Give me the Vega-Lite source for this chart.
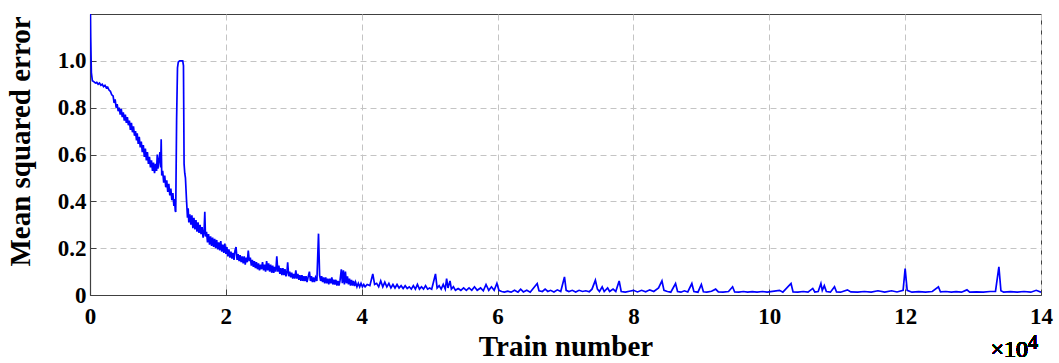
{
  "$schema": "https://vega.github.io/schema/vega-lite/v6.json",
  "width": 951,
  "height": 281,
  "autosize": {"type": "none"},
  "padding": {"left": 90, "top": 14, "right": 18, "bottom": 68},
  "background": "white",
  "config": {
    "view": {"stroke": "#404040", "strokeWidth": 1},
    "axis": {
      "labelFont": "Liberation Serif",
      "labelFontWeight": "bold",
      "labelFontSize": 23,
      "labelColor": "black",
      "titleFont": "Liberation Serif",
      "titleFontWeight": "bold",
      "titleFontSize": 29,
      "titleColor": "black",
      "domainColor": "#404040",
      "domainWidth": 1.2,
      "tickColor": "#404040",
      "gridColor": "#c4c4c4",
      "gridDash": [6, 4],
      "gridWidth": 1
    }
  },
  "data": {
    "values": [
      {"x": 0, "y": 1.35}, {"x": 100, "y": 1.1}, {"x": 200, "y": 0.95}, {"x": 350, "y": 0.915}, {"x": 600, "y": 0.91},
      {"x": 800, "y": 0.905}, {"x": 1000, "y": 0.908}, {"x": 1200, "y": 0.9}, {"x": 1400, "y": 0.905}, {"x": 1600, "y": 0.896},
      {"x": 1800, "y": 0.9}, {"x": 2000, "y": 0.89}, {"x": 2200, "y": 0.895}, {"x": 2400, "y": 0.885}, {"x": 2600, "y": 0.888},
      {"x": 2800, "y": 0.875}, {"x": 3000, "y": 0.87}, {"x": 3200, "y": 0.855},
      {"x": 3400, "y": 0.85}, {"x": 3550, "y": 0.82}, {"x": 3700, "y": 0.835}, {"x": 3850, "y": 0.8}, {"x": 4000, "y": 0.815},
      {"x": 4150, "y": 0.785}, {"x": 4300, "y": 0.8}, {"x": 4450, "y": 0.77}, {"x": 4600, "y": 0.795}, {"x": 4750, "y": 0.76},
      {"x": 4900, "y": 0.78}, {"x": 5050, "y": 0.745}, {"x": 5200, "y": 0.77}, {"x": 5350, "y": 0.735}, {"x": 5500, "y": 0.76},
      {"x": 5650, "y": 0.725}, {"x": 5800, "y": 0.745}, {"x": 5950, "y": 0.705}, {"x": 6100, "y": 0.735}, {"x": 6250, "y": 0.695},
      {"x": 6400, "y": 0.72}, {"x": 6550, "y": 0.68}, {"x": 6700, "y": 0.7}, {"x": 6850, "y": 0.66}, {"x": 6950, "y": 0.69},
      {"x": 7100, "y": 0.645}, {"x": 7250, "y": 0.675}, {"x": 7400, "y": 0.63}, {"x": 7550, "y": 0.655}, {"x": 7700, "y": 0.61},
      {"x": 7850, "y": 0.64}, {"x": 8000, "y": 0.59}, {"x": 8150, "y": 0.625}, {"x": 8300, "y": 0.575}, {"x": 8450, "y": 0.61},
      {"x": 8600, "y": 0.56}, {"x": 8750, "y": 0.59}, {"x": 8900, "y": 0.545}, {"x": 9050, "y": 0.575}, {"x": 9200, "y": 0.53},
      {"x": 9350, "y": 0.565}, {"x": 9500, "y": 0.52}, {"x": 9650, "y": 0.56}, {"x": 9800, "y": 0.53}, {"x": 9900, "y": 0.6},
      {"x": 10000, "y": 0.54}, {"x": 10150, "y": 0.575}, {"x": 10300, "y": 0.61}, {"x": 10400, "y": 0.545}, {"x": 10480, "y": 0.665},
      {"x": 10560, "y": 0.51}, {"x": 10700, "y": 0.53}, {"x": 10850, "y": 0.48}, {"x": 11000, "y": 0.51}, {"x": 11150, "y": 0.46},
      {"x": 11300, "y": 0.49}, {"x": 11450, "y": 0.44}, {"x": 11600, "y": 0.475}, {"x": 11750, "y": 0.425}, {"x": 11900, "y": 0.455},
      {"x": 12050, "y": 0.405}, {"x": 12200, "y": 0.435}, {"x": 12350, "y": 0.38}, {"x": 12450, "y": 0.41}, {"x": 12550, "y": 0.36},
      {"x": 12620, "y": 0.355}, {"x": 12750, "y": 0.75}, {"x": 12880, "y": 0.97}, {"x": 13000, "y": 0.995},
      {"x": 13200, "y": 1.0}, {"x": 13650, "y": 1.0}, {"x": 13760, "y": 0.98}, {"x": 13850, "y": 0.56}, {"x": 13950, "y": 0.52},
      {"x": 14050, "y": 0.5}, {"x": 14200, "y": 0.41}, {"x": 14350, "y": 0.33}, {"x": 14450, "y": 0.37}, {"x": 14550, "y": 0.31},
      {"x": 14700, "y": 0.345}, {"x": 14850, "y": 0.3}, {"x": 15000, "y": 0.34}, {"x": 15150, "y": 0.285}, {"x": 15300, "y": 0.33},
      {"x": 15450, "y": 0.28}, {"x": 15600, "y": 0.32}, {"x": 15750, "y": 0.27}, {"x": 15900, "y": 0.31}, {"x": 16050, "y": 0.265},
      {"x": 16200, "y": 0.3}, {"x": 16350, "y": 0.26}, {"x": 16500, "y": 0.29}, {"x": 16650, "y": 0.245}, {"x": 16800, "y": 0.275},
      {"x": 16900, "y": 0.355}, {"x": 17000, "y": 0.25}, {"x": 17150, "y": 0.27}, {"x": 17300, "y": 0.225}, {"x": 17450, "y": 0.26},
      {"x": 17600, "y": 0.215}, {"x": 17750, "y": 0.25}, {"x": 17900, "y": 0.21}, {"x": 18050, "y": 0.245}, {"x": 18200, "y": 0.205},
      {"x": 18350, "y": 0.24}, {"x": 18500, "y": 0.2}, {"x": 18650, "y": 0.235}, {"x": 18800, "y": 0.195}, {"x": 18950, "y": 0.225},
      {"x": 19100, "y": 0.19}, {"x": 19250, "y": 0.23}, {"x": 19400, "y": 0.185}, {"x": 19550, "y": 0.215}, {"x": 19700, "y": 0.18},
      {"x": 19850, "y": 0.22}, {"x": 20000, "y": 0.175}, {"x": 20150, "y": 0.205}, {"x": 20300, "y": 0.165}, {"x": 20450, "y": 0.195},
      {"x": 20600, "y": 0.16}, {"x": 20750, "y": 0.185}, {"x": 20900, "y": 0.155}, {"x": 21050, "y": 0.18}, {"x": 21200, "y": 0.15},
      {"x": 21350, "y": 0.19}, {"x": 21500, "y": 0.205}, {"x": 21650, "y": 0.15}, {"x": 21800, "y": 0.175}, {"x": 21950, "y": 0.145},
      {"x": 22100, "y": 0.17}, {"x": 22250, "y": 0.14}, {"x": 22400, "y": 0.165}, {"x": 22550, "y": 0.135}, {"x": 22700, "y": 0.165},
      {"x": 22850, "y": 0.13}, {"x": 23000, "y": 0.16}, {"x": 23150, "y": 0.14}, {"x": 23300, "y": 0.19}, {"x": 23450, "y": 0.145},
      {"x": 23600, "y": 0.16}, {"x": 23750, "y": 0.125}, {"x": 23900, "y": 0.15}, {"x": 24050, "y": 0.12}, {"x": 24200, "y": 0.145},
      {"x": 24350, "y": 0.115}, {"x": 24500, "y": 0.14}, {"x": 24650, "y": 0.11}, {"x": 24800, "y": 0.135}, {"x": 24950, "y": 0.105},
      {"x": 25100, "y": 0.13}, {"x": 25250, "y": 0.11}, {"x": 25400, "y": 0.14}, {"x": 25550, "y": 0.105}, {"x": 25700, "y": 0.13},
      {"x": 25850, "y": 0.1}, {"x": 26000, "y": 0.145}, {"x": 26150, "y": 0.105}, {"x": 26300, "y": 0.135}, {"x": 26450, "y": 0.1},
      {"x": 26600, "y": 0.13}, {"x": 26750, "y": 0.095}, {"x": 26900, "y": 0.125}, {"x": 27050, "y": 0.095}, {"x": 27200, "y": 0.12},
      {"x": 27350, "y": 0.1}, {"x": 27500, "y": 0.165}, {"x": 27650, "y": 0.1}, {"x": 27800, "y": 0.125}, {"x": 27950, "y": 0.09},
      {"x": 28100, "y": 0.115}, {"x": 28250, "y": 0.085}, {"x": 28400, "y": 0.115}, {"x": 28550, "y": 0.085}, {"x": 28700, "y": 0.11},
      {"x": 28850, "y": 0.08}, {"x": 29000, "y": 0.1}, {"x": 29100, "y": 0.14}, {"x": 29250, "y": 0.08}, {"x": 29400, "y": 0.1},
      {"x": 29550, "y": 0.075}, {"x": 29700, "y": 0.095}, {"x": 29850, "y": 0.07}, {"x": 30000, "y": 0.09}, {"x": 30150, "y": 0.07},
      {"x": 30300, "y": 0.105}, {"x": 30450, "y": 0.07}, {"x": 30600, "y": 0.09}, {"x": 30750, "y": 0.065}, {"x": 30900, "y": 0.085},
      {"x": 31050, "y": 0.06}, {"x": 31200, "y": 0.085}, {"x": 31350, "y": 0.06}, {"x": 31500, "y": 0.08}, {"x": 31650, "y": 0.06},
      {"x": 31800, "y": 0.08}, {"x": 31950, "y": 0.055}, {"x": 32100, "y": 0.075}, {"x": 32300, "y": 0.1}, {"x": 32450, "y": 0.06},
      {"x": 32600, "y": 0.08}, {"x": 32750, "y": 0.055}, {"x": 32900, "y": 0.075}, {"x": 33050, "y": 0.055}, {"x": 33200, "y": 0.075},
      {"x": 33400, "y": 0.06}, {"x": 33640, "y": 0.262}, {"x": 33800, "y": 0.085}, {"x": 33950, "y": 0.06}, {"x": 34100, "y": 0.08},
      {"x": 34250, "y": 0.055}, {"x": 34400, "y": 0.075}, {"x": 34550, "y": 0.05}, {"x": 34700, "y": 0.075}, {"x": 34850, "y": 0.05},
      {"x": 35000, "y": 0.07}, {"x": 35150, "y": 0.045}, {"x": 35300, "y": 0.07}, {"x": 35450, "y": 0.05}, {"x": 35600, "y": 0.075},
      {"x": 35750, "y": 0.045}, {"x": 35900, "y": 0.065}, {"x": 36050, "y": 0.045}, {"x": 36200, "y": 0.065}, {"x": 36350, "y": 0.04},
      {"x": 36500, "y": 0.06}, {"x": 36650, "y": 0.04}, {"x": 36800, "y": 0.06}, {"x": 37000, "y": 0.11}, {"x": 37150, "y": 0.05},
      {"x": 37300, "y": 0.105}, {"x": 37450, "y": 0.045}, {"x": 37600, "y": 0.1}, {"x": 37750, "y": 0.05}, {"x": 37900, "y": 0.08},
      {"x": 38050, "y": 0.045}, {"x": 38200, "y": 0.07}, {"x": 38350, "y": 0.04}, {"x": 38500, "y": 0.065}, {"x": 38650, "y": 0.04},
      {"x": 38800, "y": 0.06}, {"x": 38950, "y": 0.038}, {"x": 39100, "y": 0.055}, {"x": 39300, "y": 0.035}, {"x": 39500, "y": 0.05},
      {"x": 39700, "y": 0.035}, {"x": 39900, "y": 0.05}, {"x": 40100, "y": 0.035},
      {"x": 40300, "y": 0.045}, {"x": 40500, "y": 0.035}, {"x": 40800, "y": 0.045}, {"x": 41200, "y": 0.04}, {"x": 41630, "y": 0.09},
      {"x": 41900, "y": 0.045}, {"x": 42200, "y": 0.05}, {"x": 42500, "y": 0.035}, {"x": 42800, "y": 0.06}, {"x": 43100, "y": 0.035},
      {"x": 43400, "y": 0.055}, {"x": 43700, "y": 0.035}, {"x": 44000, "y": 0.05}, {"x": 44300, "y": 0.03}, {"x": 44600, "y": 0.045},
      {"x": 44900, "y": 0.03}, {"x": 45200, "y": 0.045}, {"x": 45500, "y": 0.03}, {"x": 45800, "y": 0.04}, {"x": 46100, "y": 0.028},
      {"x": 46400, "y": 0.04}, {"x": 46700, "y": 0.028}, {"x": 47000, "y": 0.035}, {"x": 47300, "y": 0.025}, {"x": 47600, "y": 0.04},
      {"x": 47900, "y": 0.025}, {"x": 48200, "y": 0.045}, {"x": 48500, "y": 0.025}, {"x": 48800, "y": 0.035}, {"x": 49100, "y": 0.025},
      {"x": 49400, "y": 0.04}, {"x": 49700, "y": 0.025}, {"x": 50000, "y": 0.03}, {"x": 50300, "y": 0.025}, {"x": 50860, "y": 0.09},
      {"x": 51100, "y": 0.03}, {"x": 51400, "y": 0.04}, {"x": 51700, "y": 0.025}, {"x": 52000, "y": 0.045}, {"x": 52300, "y": 0.025},
      {"x": 52500, "y": 0.07}, {"x": 52700, "y": 0.03}, {"x": 53000, "y": 0.06}, {"x": 53200, "y": 0.025}, {"x": 53500, "y": 0.035},
      {"x": 53800, "y": 0.02}, {"x": 54200, "y": 0.028}, {"x": 54600, "y": 0.02}, {"x": 55000, "y": 0.03}, {"x": 55400, "y": 0.02},
      {"x": 55800, "y": 0.03}, {"x": 56200, "y": 0.02}, {"x": 56600, "y": 0.035}, {"x": 57000, "y": 0.02}, {"x": 57500, "y": 0.03},
      {"x": 57900, "y": 0.018}, {"x": 58300, "y": 0.045}, {"x": 58700, "y": 0.02}, {"x": 59100, "y": 0.035}, {"x": 59500, "y": 0.02},
      {"x": 59900, "y": 0.05}, {"x": 60200, "y": 0.02}, {"x": 60600, "y": 0.015}, {"x": 61000, "y": 0.012}, {"x": 61500, "y": 0.016},
      {"x": 62000, "y": 0.012}, {"x": 62500, "y": 0.02}, {"x": 63000, "y": 0.012}, {"x": 63400, "y": 0.025}, {"x": 63800, "y": 0.013},
      {"x": 64300, "y": 0.02}, {"x": 64800, "y": 0.012}, {"x": 65300, "y": 0.03}, {"x": 65830, "y": 0.049}, {"x": 66100, "y": 0.018},
      {"x": 66600, "y": 0.015}, {"x": 67000, "y": 0.025}, {"x": 67400, "y": 0.015}, {"x": 67800, "y": 0.02}, {"x": 68300, "y": 0.013},
      {"x": 68800, "y": 0.022}, {"x": 69300, "y": 0.015}, {"x": 69850, "y": 0.077}, {"x": 70100, "y": 0.02}, {"x": 70500, "y": 0.015},
      {"x": 71000, "y": 0.02}, {"x": 71500, "y": 0.013}, {"x": 72000, "y": 0.02}, {"x": 72500, "y": 0.015}, {"x": 73000, "y": 0.018},
      {"x": 73500, "y": 0.014}, {"x": 73900, "y": 0.025}, {"x": 74400, "y": 0.063}, {"x": 74700, "y": 0.025}, {"x": 75000, "y": 0.015},
      {"x": 75400, "y": 0.035}, {"x": 75700, "y": 0.015}, {"x": 76200, "y": 0.03}, {"x": 76500, "y": 0.015}, {"x": 77000, "y": 0.025},
      {"x": 77400, "y": 0.015}, {"x": 77900, "y": 0.06}, {"x": 78200, "y": 0.015}, {"x": 78800, "y": 0.012}, {"x": 79400, "y": 0.016},
      {"x": 80000, "y": 0.02}, {"x": 80600, "y": 0.013}, {"x": 81200, "y": 0.02}, {"x": 81800, "y": 0.014}, {"x": 82400, "y": 0.022},
      {"x": 83000, "y": 0.015}, {"x": 83700, "y": 0.03}, {"x": 84200, "y": 0.06}, {"x": 84500, "y": 0.02}, {"x": 85000, "y": 0.015},
      {"x": 85500, "y": 0.012}, {"x": 86200, "y": 0.049}, {"x": 86500, "y": 0.015}, {"x": 87000, "y": 0.012}, {"x": 87500, "y": 0.018},
      {"x": 88000, "y": 0.013}, {"x": 88600, "y": 0.049}, {"x": 88900, "y": 0.015}, {"x": 89500, "y": 0.012}, {"x": 90000, "y": 0.045},
      {"x": 90300, "y": 0.014}, {"x": 90800, "y": 0.012}, {"x": 91500, "y": 0.016}, {"x": 92100, "y": 0.025}, {"x": 92500, "y": 0.013},
      {"x": 93200, "y": 0.012}, {"x": 94000, "y": 0.015}, {"x": 94600, "y": 0.035}, {"x": 94900, "y": 0.013}, {"x": 95500, "y": 0.012},
      {"x": 96200, "y": 0.015}, {"x": 96800, "y": 0.012}, {"x": 97500, "y": 0.014}, {"x": 98200, "y": 0.012}, {"x": 99000, "y": 0.015},
      {"x": 99700, "y": 0.012}, {"x": 101500, "y": 0.02}, {"x": 102000, "y": 0.012}, {"x": 103200, "y": 0.049}, {"x": 103500, "y": 0.013},
      {"x": 104200, "y": 0.012}, {"x": 105000, "y": 0.015}, {"x": 105700, "y": 0.012}, {"x": 106400, "y": 0.028}, {"x": 106700, "y": 0.013},
      {"x": 107200, "y": 0.015}, {"x": 107600, "y": 0.049}, {"x": 107800, "y": 0.02}, {"x": 108100, "y": 0.04}, {"x": 108400, "y": 0.015},
      {"x": 109000, "y": 0.012}, {"x": 109600, "y": 0.035}, {"x": 109900, "y": 0.013}, {"x": 110500, "y": 0.012}, {"x": 111500, "y": 0.022},
      {"x": 112000, "y": 0.013}, {"x": 113000, "y": 0.012}, {"x": 114000, "y": 0.015}, {"x": 115000, "y": 0.012}, {"x": 116000, "y": 0.018},
      {"x": 117000, "y": 0.012}, {"x": 118000, "y": 0.018}, {"x": 118800, "y": 0.013}, {"x": 119700, "y": 0.02}, {"x": 120000, "y": 0.113},
      {"x": 120300, "y": 0.02}, {"x": 121000, "y": 0.012}, {"x": 122000, "y": 0.014}, {"x": 123000, "y": 0.012}, {"x": 124000, "y": 0.015},
      {"x": 124900, "y": 0.035}, {"x": 125200, "y": 0.013}, {"x": 126000, "y": 0.015}, {"x": 126800, "y": 0.012}, {"x": 127500, "y": 0.014},
      {"x": 128300, "y": 0.012}, {"x": 129100, "y": 0.022}, {"x": 129500, "y": 0.012}, {"x": 130500, "y": 0.013}, {"x": 131500, "y": 0.012},
      {"x": 132500, "y": 0.015}, {"x": 133300, "y": 0.015}, {"x": 133800, "y": 0.12}, {"x": 134100, "y": 0.018}, {"x": 134500, "y": 0.012},
      {"x": 135500, "y": 0.014}, {"x": 136500, "y": 0.012}, {"x": 137500, "y": 0.015}, {"x": 138500, "y": 0.012}, {"x": 139300, "y": 0.02},
      {"x": 140000, "y": 0.012}
    ]
  },
  "layer": [
    {
      "mark": {"type": "line", "color": "#0000ff", "strokeWidth": 1.7, "clip": true},
      "encoding": {
        "x": {
          "field": "x", "type": "quantitative",
          "scale": {"domain": [0, 140000], "nice": false, "zero": false},
          "axis": {
            "values": [0, 20000, 40000, 60000, 80000, 100000, 120000, 140000],
            "labelExpr": "datum.value / 10000",
            "title": "Train number",
            "grid": true, "ticks": true, "tickSize": -6,
            "labelFlush": false, "labelOverlap": false,
            "labelPadding": 16, "titlePadding": 4
          }
        },
        "y": {
          "field": "y", "type": "quantitative",
          "scale": {"domain": [0, 1.2], "nice": false},
          "axis": {
            "values": [0, 0.2, 0.4, 0.6, 0.8, 1.0],
            "labelExpr": "datum.value == 0 ? '0' : format(datum.value, '.1f')",
            "title": "Mean squared error",
            "grid": true, "ticks": true, "tickSize": -6,
            "labelFlush": false, "labelOverlap": false, "labelBound": false,
            "labelPadding": 10, "titlePadding": 22, "titleY": 127
          }
        }
      }
    },
    {
      "mark": {"type": "text", "text": "×10", "font": "Liberation Serif", "fontSize": 24, "fontWeight": "normal", "align": "right", "baseline": "alphabetic", "dx": -13, "dy": 62, "color": "black"},
      "encoding": {
        "x": {"datum": 140000, "type": "quantitative"},
        "y": {"datum": 0, "type": "quantitative"}
      }
    },
    {
      "mark": {"type": "text", "text": "4", "font": "Liberation Serif", "fontSize": 20, "fontWeight": "normal", "align": "left", "baseline": "alphabetic", "dx": -13, "dy": 54, "color": "black"},
      "encoding": {
        "x": {"datum": 140000, "type": "quantitative"},
        "y": {"datum": 0, "type": "quantitative"}
      }
    }
  ]
}
